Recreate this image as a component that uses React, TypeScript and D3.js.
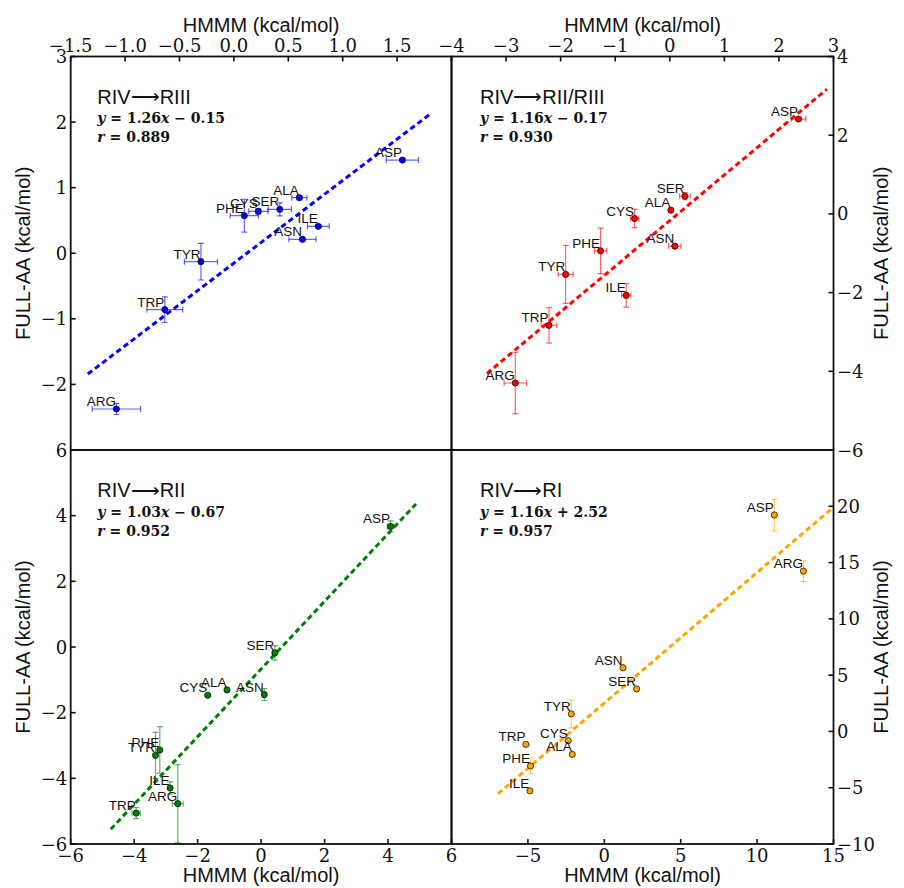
import React from 'react';
import * as d3 from 'd3';

const residues = ["ASP", "ALA", "SER", "CYS", "PHE", "ILE", "ASN", "TYR", "TRP", "ARG"];

// Panel 1: RIV→RIII
const p1X = [1.549, 0.602, 0.422, 0.224, 0.096, 0.776, 0.630, -0.303, -0.635, -1.080];
const p1Y = [1.421, 0.848, 0.669, 0.639, 0.573, 0.410, 0.212, -0.128, -0.860, -2.375];
const p1Xerr = [0.148, 0.069, 0.107, 0.088, 0.13, 0.10, 0.125, 0.152, 0.165, 0.222];
const p1Yerr = [0.02, 0.03, 0.10, 0.04, 0.25, 0.02, 0.03, 0.28, 0.196, 0.084];

// Panel 2: RIV→RII/RIII
const p2X = [2.359, 0.020, 0.277, -0.645, -1.268, -0.798, 0.093, -1.908, -2.214, -2.831];
const p2Y = [2.411, 0.094, 0.449, -0.117, -0.939, -2.071, -0.820, -1.538, -2.832, -4.297];
const p2Xerr = [0.134, 0, 0.098, 0.076, 0.113, 0.085, 0.113, 0.137, 0.143, 0.204];
const p2Yerr = [0.03, 0, 0.09, 0.23, 0.58, 0.30, 0.03, 0.736, 0.45, 0.78];

// Panel 3: RIV→RII
const p3X = [4.08, -1.075, 0.434, -1.682, -3.192, -2.868, 0.100, -3.327, -3.937, -2.626];
const p3Y = [3.673, -1.307, -0.180, -1.470, -3.137, -4.295, -1.449, -3.30, -5.058, -4.772];
const p3Xerr = [0.1, 0, 0.05, 0, 0, 0, 0.05, 0, 0.13, 0.17];
const p3Yerr = [0.17, 0, 0.22, 0, 0.71, 0.19, 0.18, 0.70, 0.17, 1.19];

// Panel 4: RIV→RI
const p4X = [11.13, -2.096, 2.115, -2.36, -4.83, -4.87, 1.224, -2.16, -5.13, 13.03];
const p4Y = [19.23, -2.04, 3.77, -0.82, -3.07, -5.28, 5.66, 1.55, -1.15, 14.24];
const p4Xerr = [0, 0, 0, 0, 0, 0, 0, 0, 0, 0];
const p4Yerr = [1.41, 0, 0, 0, 0.70, 0, 0, 1.23, 0, 0.92];

const titles = ["RIV→RIII", "RIV→RII/RIII", "RIV→RII", "RIV→RI"];
const slopes = [1.26, 1.16, 1.03, 1.16];
const intercepts = [-0.15, -0.17, -0.67, 2.52];
const rValues = ["0.889", "0.930", "0.952", "0.957"];
const colors = ["#0000ff", "#ff0000", "#008000", "#ffa500"];

const xDomains: [number, number][] = [[-1.5, 2.0], [-4, 3], [-6, 6], [-10, 15]];
const yDomains: [number, number][] = [[-3, 3], [-6, 4], [-6, 6], [-10, 25]];
const xTickVals = [
  [-1.5, -1.0, -0.5, 0.0, 0.5, 1.0, 1.5],
  [-4, -3, -2, -1, 0, 1, 2, 3],
  [-6, -4, -2, 0, 2, 4, 6],
  [-5, 0, 5, 10, 15],
];
const yTickVals = [
  [-2, -1, 0, 1, 2, 3],
  [-6, -4, -2, 0, 2, 4],
  [-6, -4, -2, 0, 2, 4, 6],
  [-10, -5, 0, 5, 10, 15, 20],
];
const xLabel = "HMMM (kcal/mol)";
const yLabel = "FULL-AA (kcal/mol)";

const L = 70.7, M = 451.5, R = 833.5;
const T = 56.5, MID = 450, B = 844;

const serif = "'DejaVu Serif', serif";
const sans = "'Liberation Sans', Arial, sans-serif";

function fmtTick(v: number, dec: boolean) {
  const s = dec ? d3.format(".1f")(v) : d3.format("d")(v);
  return s.replace("-", "−");
}

const allX = [p1X, p2X, p3X, p4X];
const allY = [p1Y, p2Y, p3Y, p4Y];
const allXerr = [p1Xerr, p2Xerr, p3Xerr, p4Xerr];
const allYerr = [p1Yerr, p2Yerr, p3Yerr, p4Yerr];

function Panel({ i }: { i: number }) {
  const col = i % 2, row = Math.floor(i / 2);
  const x0 = col === 0 ? L : M, x1 = col === 0 ? M : R;
  const y0 = row === 0 ? T : MID, y1 = row === 0 ? MID : B;
  const xs = d3.scaleLinear().domain(xDomains[i]).range([x0, x1]);
  const ys = d3.scaleLinear().domain(yDomains[i]).range([y1, y0]);
  const X = allX[i], Y = allY[i], XE = allXerr[i], YE = allYerr[i];
  const color = colors[i];
  const ext = d3.extent(X) as [number, number];
  const pad = (ext[1] - ext[0]) * 0.1;
  const fx = [ext[0] - pad, ext[1] + pad];
  const line = d3.line<number>().x((d) => xs(d)).y((d) => ys(slopes[i] * d + intercepts[i]));
  const tickLen = 5;
  const xTop = row === 0;
  const yLeft = col === 0;
  const cap = 3;
  const icpt = intercepts[i];
  const clipId = `clip${i}`;
  const [tA, tB] = titles[i].split("→");
  const tx = x0 + (col === 0 ? 26.6 : 28.5);
  return (
    <g>
      <defs>
        <clipPath id={clipId}>
          <rect x={x0} y={y0} width={x1 - x0} height={y1 - y0} />
        </clipPath>
      </defs>
      <g clipPath={`url(#${clipId})`}>
        <path d={line(fx) || ""} fill="none" stroke={color} strokeWidth={3} strokeDasharray="5.5,3.5" />
        {X.map((xv, k) => {
          const px = xs(xv), py = ys(Y[k]);
          const xe = XE[k], ye = YE[k];
          return (
            <g key={k} stroke={color} strokeOpacity={0.6} strokeWidth={1.2}>
              {xe > 0 && (
                <g>
                  <line x1={xs(xv - xe)} x2={xs(xv + xe)} y1={py} y2={py} />
                  <line x1={xs(xv - xe)} x2={xs(xv - xe)} y1={py - cap} y2={py + cap} />
                  <line x1={xs(xv + xe)} x2={xs(xv + xe)} y1={py - cap} y2={py + cap} />
                </g>
              )}
              {ye > 0 && (
                <g>
                  <line x1={px} x2={px} y1={ys(Y[k] - ye)} y2={ys(Y[k] + ye)} />
                  <line x1={px - cap} x2={px + cap} y1={ys(Y[k] - ye)} y2={ys(Y[k] - ye)} />
                  <line x1={px - cap} x2={px + cap} y1={ys(Y[k] + ye)} y2={ys(Y[k] + ye)} />
                </g>
              )}
            </g>
          );
        })}
        {X.map((xv, k) => (
          <circle key={k} cx={xs(xv)} cy={ys(Y[k])} r={3.1} fill={color} stroke="#000" strokeWidth={0.7} />
        ))}
        {X.map((xv, k) => (
          <text key={k} x={xs(xv) - 0.5} y={ys(Y[k]) - 3} textAnchor="end" fontFamily={sans} fontSize={13.5} fill="#111">
            {residues[k]}
          </text>
        ))}
      </g>
      {/* annotation */}
      <text x={tx} y={y0 + 47} fontFamily={sans} fontSize={20} fill="#111">
        {tA}
        <tspan fontFamily="'DejaVu Sans', sans-serif" fontWeight="300" dy={-0.5}>⟶</tspan>
        <tspan dy={0.5}>{tB}</tspan>
      </text>
      <text x={tx} y={y0 + 66.5} fontFamily={serif} fontSize={14} fontWeight="bold" fill="#111">
        <tspan fontStyle="italic">y</tspan>
        {" = " + slopes[i].toFixed(2)}
        <tspan fontStyle="italic">x</tspan>
        {(icpt < 0 ? " − " : " + ") + Math.abs(icpt).toFixed(2)}
      </text>
      <text x={tx} y={y0 + 85.5} fontFamily={serif} fontSize={14} fontWeight="bold" fill="#111">
        <tspan fontStyle="italic">r</tspan>
        {" = " + rValues[i]}
      </text>
      {/* frame */}
      <rect x={x0} y={y0} width={x1 - x0} height={y1 - y0} fill="none" stroke="#111" strokeWidth={1.8} />
      {/* x ticks */}
      {xTickVals[i].map((v) => {
        const px = xs(v);
        const yy = xTop ? y0 : y1;
        return (
          <g key={v}>
            <line x1={px} x2={px} y1={yy} y2={xTop ? yy + tickLen : yy - tickLen} stroke="#111" strokeWidth={1.6} />
            <text x={px} y={xTop ? y0 - 4.5 : y1 + 18} textAnchor="middle" fontFamily={serif} fontSize={18} fill="#111">
              {fmtTick(v, i === 0)}
            </text>
          </g>
        );
      })}
      {/* y ticks */}
      {yTickVals[i].map((v) => {
        const py = ys(v);
        const xx = yLeft ? x0 : x1;
        return (
          <g key={v}>
            <line x1={xx} x2={yLeft ? xx + tickLen : xx - tickLen} y1={py} y2={py} stroke="#111" strokeWidth={1.6} />
            <text x={yLeft ? x0 - 3.5 : x1 + 3.5} y={py + 6.5} textAnchor={yLeft ? "end" : "start"} fontFamily={serif} fontSize={18} fill="#111">
              {fmtTick(v, false)}
            </text>
          </g>
        );
      })}
      {/* axis labels */}
      <text x={(x0 + x1) / 2} y={xTop ? 32 : 882} textAnchor="middle" fontFamily={sans} fontSize={20} fill="#111">
        {xLabel}
      </text>
      <text
        transform={`translate(${yLeft ? 30 : 888},${(y0 + y1) / 2}) rotate(-90)`}
        textAnchor="middle"
        fontFamily={sans}
        fontSize={20}
        fill="#111"
      >
        {yLabel}
      </text>
    </g>
  );
}

export default function App() {
  return (
    <svg
      width={904}
      height={888}
      viewBox="0 0 904 888"
      style={{ position: "absolute", left: 0, top: 0, background: "#fff" }}
    >
      <rect width={904} height={888} fill="#fff" />
      {[0, 1, 2, 3].map((i) => (
        <Panel key={i} i={i} />
      ))}
    </svg>
  );
}
